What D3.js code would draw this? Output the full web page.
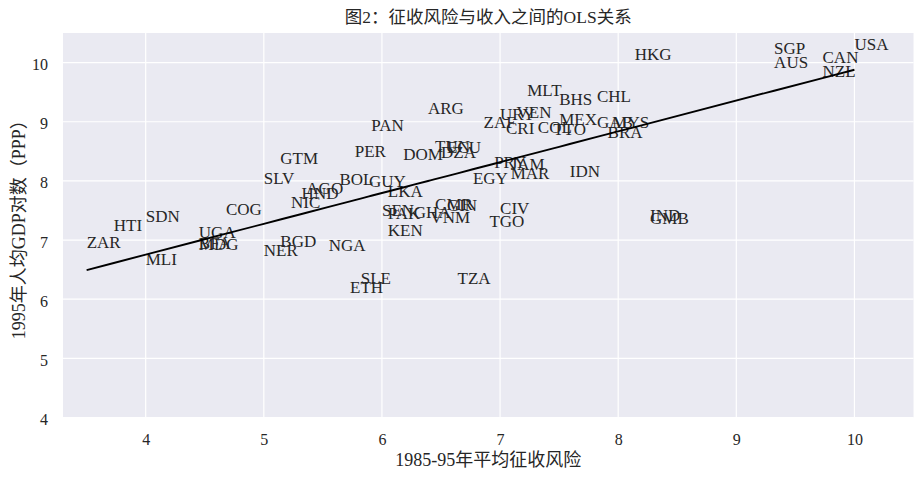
<!DOCTYPE html>
<html>
<head>
<meta charset="utf-8">
<script src="https://cdn.jsdelivr.net/npm/d3@7"></script>
<style>
  html, body { margin: 0; padding: 0; background: #ffffff; }
  svg { display: block; }
  text { font-family: "Liberation Serif", "Noto Sans CJK SC", serif; fill: #262626; }
</style>
</head>
<body>
<svg id="chart" width="924" height="479"></svg>
<script>
// ---- data ----
const countries = ["AGO","ARG","AUS","BFA","BGD","BHS","BOL","BRA","CAN","CHL","CIV","CMR","COG","COL","CRI","DOM",
  "DZA","ECU","EGY","ETH","GAB","GHA","GIN","GMB","GTM","GUY","HKG","HND","HTI","IDN","IND","JAM",
  "KEN","LKA","MAR","MDG","MEX","MLI","MLT","MYS","NER","NGA","NIC","NZL","PAK","PAN","PER","PRY",
  "SDN","SEN","SGP","SLE","SLV","TGO","TTO","TUN","TZA","UGA","URY","USA","VEN","VNM","ZAF","ZAR"];
const avexpr = [5.36,6.39,9.32,4.45,5.14,7.50,5.64,7.91,9.73,7.82,7.00,6.45,4.68,7.32,7.05,6.18,
  6.50,6.55,6.77,5.73,7.82,6.27,6.55,8.27,5.14,5.89,8.14,5.32,3.73,7.59,8.27,7.09,
  6.05,6.05,7.09,4.45,7.50,4.00,7.23,7.95,5.00,5.55,5.23,9.73,6.05,5.91,5.77,6.95,
  4.00,6.00,9.32,5.82,5.00,6.91,7.45,6.45,6.64,4.45,7.00,10.00,7.14,6.41,6.86,3.50];
const logpgp95 = [7.77,9.13,9.90,6.85,6.88,9.29,7.93,8.73,9.99,9.34,7.44,7.50,7.42,8.81,8.79,8.36,
  8.39,8.47,7.95,6.11,8.90,7.37,7.49,7.27,8.29,7.90,10.05,7.69,7.15,8.07,7.33,8.19,
  7.06,7.73,8.04,6.84,8.94,6.57,9.43,8.89,6.73,6.82,7.54,9.76,7.35,8.84,8.40,8.21,
  7.31,7.40,10.15,6.25,7.95,7.22,8.77,8.48,6.25,7.04,9.03,10.22,9.07,7.28,8.89,6.87];
const xTicks = [4,5,6,7,8,9,10];
const yTicks = [4,5,6,7,8,9,10];
const titleText = "图2：征收风险与收入之间的OLS关系";
const xLabelText = "1985-95年平均征收风险";
const yLabelText = "1995年人均GDP对数（PPP）";

// ---- layout ----
const svg = d3.select("#chart");
const plot = { left: 63, right: 913.5, top: 33, bottom: 417.5 };
const x = d3.scaleLinear().domain([3.3, 10.5]).range([plot.left, plot.right]);
const y = d3.scaleLinear().domain([4, 10.5]).range([plot.bottom, plot.top]);

// background
svg.append("rect")
  .attr("x", plot.left).attr("y", plot.top)
  .attr("width", plot.right - plot.left).attr("height", plot.bottom - plot.top)
  .attr("fill", "#EAEAF2");

// grid
const grid = svg.append("g").attr("stroke", "#ffffff").attr("stroke-width", 1.2);
grid.selectAll("line.vx").data(xTicks).join("line")
  .attr("x1", d => x(d)).attr("x2", d => x(d))
  .attr("y1", plot.top).attr("y2", plot.bottom);
grid.selectAll("line.hy").data(yTicks).join("line")
  .attr("y1", d => y(d)).attr("y2", d => y(d))
  .attr("x1", plot.left).attr("x2", plot.right);

// axes (tick labels only, seaborn darkgrid style)
const xAxis = svg.append("g").attr("transform", `translate(0,${plot.bottom})`)
  .call(d3.axisBottom(x).tickValues(xTicks).tickSize(0).tickPadding(0).tickFormat(d3.format("d")));
xAxis.select(".domain").remove();
xAxis.selectAll("text").attr("font-size", 16).attr("dy", null).attr("y", 27.5)
  .style("font-family", "'Liberation Serif', serif").attr("fill", "#262626");

const yAxis = svg.append("g").attr("transform", `translate(${plot.left},0)`)
  .call(d3.axisLeft(y).tickValues(yTicks).tickSize(0).tickPadding(0).tickFormat(d3.format("d")));
yAxis.select(".domain").remove();
yAxis.selectAll("text").attr("font-size", 16).attr("dy", null).attr("x", -15).attr("y", 7)
  .style("font-family", "'Liberation Serif', serif").attr("fill", "#262626");

// country labels (annotate: baseline-left at the data point)
const pts = countries.map((c, i) => ({ c, xv: avexpr[i], yv: logpgp95[i] }));
svg.append("g").selectAll("text").data(pts).join("text")
  .attr("x", d => x(d.xv)).attr("y", d => y(d.yv))
  .attr("font-size", 17)
  .text(d => d.c);

// linear trend line (least squares fit of the data)
const n = avexpr.length;
const mx = d3.mean(avexpr), my = d3.mean(logpgp95);
let sxy = 0, sxx = 0;
for (let i = 0; i < n; i++) { sxy += (avexpr[i]-mx)*(logpgp95[i]-my); sxx += (avexpr[i]-mx)**2; }
const slope = sxy / sxx, intercept = my - slope * mx;
const ux = Array.from(new Set(avexpr)).sort((a,b) => a-b);
svg.append("path")
  .datum(ux)
  .attr("fill", "none").attr("stroke", "#000").attr("stroke-width", 1.9)
  .attr("d", d3.line().x(d => x(d)).y(d => y(intercept + slope * d)));

// title and axis labels
svg.append("text").attr("x", (plot.left + plot.right) / 2).attr("y", 23)
  .attr("text-anchor", "middle").attr("font-size", 17.5).text(titleText);
svg.append("text").attr("x", (plot.left + plot.right) / 2).attr("y", 466)
  .attr("text-anchor", "middle").attr("font-size", 18).text(xLabelText);
svg.append("text")
  .attr("transform", `translate(25,${(plot.top + plot.bottom) / 2}) rotate(-90)`)
  .attr("text-anchor", "middle").attr("font-size", 18).text(yLabelText);
</script>
</body>
</html>
